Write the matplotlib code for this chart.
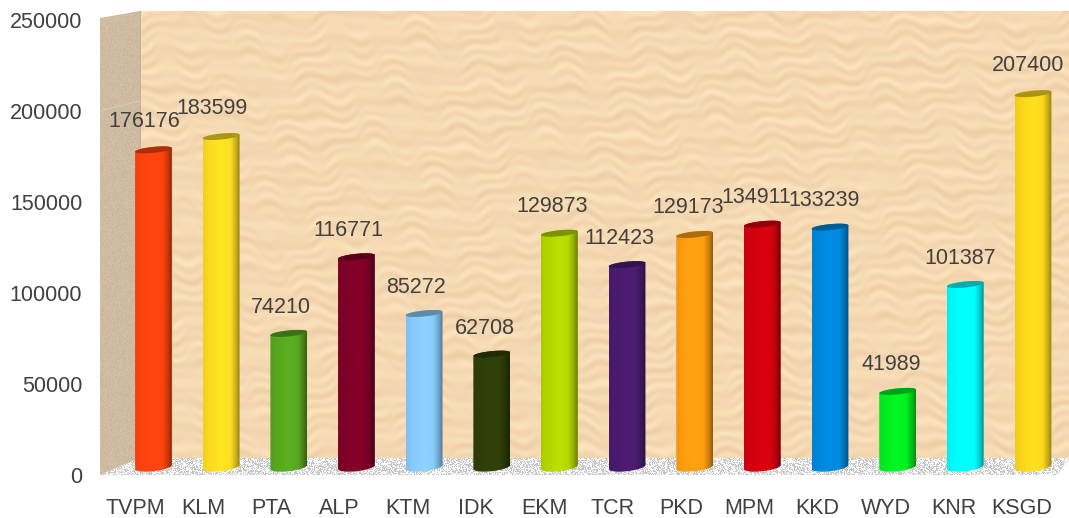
import numpy as np
import matplotlib
matplotlib.use("Agg")
import matplotlib.pyplot as plt
from matplotlib.patches import Polygon
from matplotlib.colors import to_rgb

plt.rcParams['font.family'] = ['Liberation Sans', 'DejaVu Sans']

categories = ["TVPM", "KLM", "PTA", "ALP", "KTM", "IDK", "EKM", "TCR", "PKD", "MPM", "KKD", "WYD", "KNR", "KSGD"]
values = [176176, 183599, 74210, 116771, 85272, 62708, 129873, 112423, 129173, 134911, 133239, 41989, 101387, 207400]
bar_colors = ["#FF4410", "#FFDD22", "#58A820", "#800028", "#88CCFF", "#2F3F08", "#B5D800", "#4A1C70",
              "#FF9E10", "#D40010", "#0088DD", "#00F020", "#00FFFF", "#FFD81C"]
y_ticks = [0, 50000, 100000, 150000, 200000, 250000]
label_dx_px = [-9, -9, -8, -8, -8, -7, -7, -8, -7, -6, -6, -6, -5, -5]
label_dy_px = [28, 28, 26, 26, 26, 26, 27, 26, 27, 27, 27, 27, 26, 28]

W, H = 1069, 518
TEXT = "#404040"
fig = plt.figure(figsize=(W / 100, H / 100), dpi=100)

# ---- background walls, drawn in pixel space ----
bg = fig.add_axes([0, 0, 1, 1])
bg.set_xlim(0, W); bg.set_ylim(H, 0); bg.axis("off")

yy, xx = np.mgrid[0:H, 0:W].astype(float)
warp = 3.0 * np.sin(xx / 13 + yy / 31) + 2.2 * np.sin(xx / 7 - yy / 17) + 2.0 * np.sin(xx / 29 + 1.3)
w = (np.sin((yy + warp) / 2.0) * 0.40 + np.sin((yy * 0.7 + warp * 1.4) / 1.4 + xx / 25) * 0.30
     + np.sin((yy + 1.5 * warp) / 5.0 + xx / 70) * 0.30)
w = (w - w.min()) / (w.max() - w.min())
light = np.array([252, 228, 188]) / 255
dark = np.array([238, 206, 168]) / 255
tex = light[None, None, :] * (1 - w[..., None]) + dark[None, None, :] * w[..., None]

fine = np.modf(np.abs(np.sin(xx * 12.9898 + yy * 78.233)) * 43758.5453)[0]
side_rgb = np.array([207, 188, 160]) / 255 + (fine[..., None] - 0.5) * 0.05
floor_v = 0.78 + 0.20 * (fine > 0.45)
floor_rgb = np.dstack([floor_v, floor_v, floor_v])

def region(img, pts):
    im = bg.imshow(img, extent=[0, W, H, 0], aspect="auto", interpolation="bilinear", zorder=1)
    poly = Polygon(pts, closed=True, transform=bg.transData, fc="none", ec="none")
    bg.add_patch(poly)
    im.set_clip_path(poly)

region(tex, [(140, 11), (1069, 11), (1069, 458), (140, 458)])
region(side_rgb, [(100, 18), (140, 11), (140, 458), (100, 475)])
region(floor_rgb, [(100, 475), (140, 458), (1069, 458), (1057, 475)])
bg.plot([140, 140], [11, 458], color="#C0B198", lw=0.7, zorder=2)
bg.plot([100, 140], [111, 101], color="#DDD3C0", lw=0.5, zorder=2)
bg.set_xlim(0, W); bg.set_ylim(H, 0)

# ---- front axis carrying the tick labels ----
ax = fig.add_axes([101 / W, 1 - 475 / H, (1056 - 101) / W, 455 / H])
ax.patch.set_alpha(0)
ax.set_xlim(-0.5, len(categories) - 0.5)
ax.set_ylim(0, 250000)
ax.set_yticks(y_ticks)
ax.set_xticks(range(len(categories)))
ax.set_xticklabels(categories)
ax.tick_params(axis="y", length=0, pad=13.5, labelsize=15.5, labelcolor=TEXT)
ax.tick_params(axis="x", length=0, pad=16.5, labelsize=15.5, labelcolor=TEXT)
for s in ax.spines.values():
    s.set_visible(False)

# ---- cylinders ----
X0, DX = 153.5, 67.65
Y0, PX_PER_UNIT = 467, 0.0018
bars = fig.add_axes([0, 0, 1, 1])
bars.patch.set_alpha(0); bars.axis("off")
xlim = ((0 - X0) / DX, (W - X0) / DX)
ylim = (-(H - Y0) / PX_PER_UNIT, Y0 / PX_PER_UNIT)

hw = 18.4 / DX
u = 1 / PX_PER_UNIT
t_front = np.linspace(np.pi, 2 * np.pi, 40)   # lower half of the ellipse
t_all = np.linspace(0, 2 * np.pi, 80)

def ring(cx, cy, t, a_px, tilt_px):
    return cx + hw * np.cos(t), cy + (a_px * np.sin(t) + tilt_px * np.cos(t)) * u

for i, (v, c) in enumerate(zip(values, bar_colors)):
    rgb = np.array(to_rgb(c))
    s = np.linspace(0, 1, 128)
    shade = np.interp(s, [0, 0.15, 0.5, 0.75, 0.9, 1.0], [0.94, 0.98, 1.04, 1.0, 0.78, 0.58])
    grad = np.clip(rgb[None, None, :] * shade[None, :, None], 0, 1)
    xb, yb = ring(i, 0, t_front, 4.2, 2.0)
    xt, yt = ring(i, v, t_front[::-1], -3.0, 1.8)
    body = np.column_stack([np.r_[xb, xt], np.r_[yb, yt]])
    im = bars.imshow(grad, extent=[i - hw, i + hw, -10 * u, v + 10 * u], aspect="auto", zorder=3)
    patch = Polygon(body, closed=True, transform=bars.transData, fc="none", ec="none")
    bars.add_patch(patch)
    im.set_clip_path(patch)
    xe, ye = ring(i, v, t_all, 3.0, 1.8)
    bars.fill(xe, ye, color=tuple(rgb * 0.68), lw=0, zorder=4)
    bars.annotate(str(v), xy=(i, v), xytext=(label_dx_px[i] * 0.72, label_dy_px[i] * 0.72),
                  textcoords="offset points", ha="center", va="center",
                  fontsize=15.5, color=TEXT, zorder=6, annotation_clip=False)

bars.set_xlim(*xlim); bars.set_ylim(*ylim)
fig.savefig("out.png", dpi=100)
